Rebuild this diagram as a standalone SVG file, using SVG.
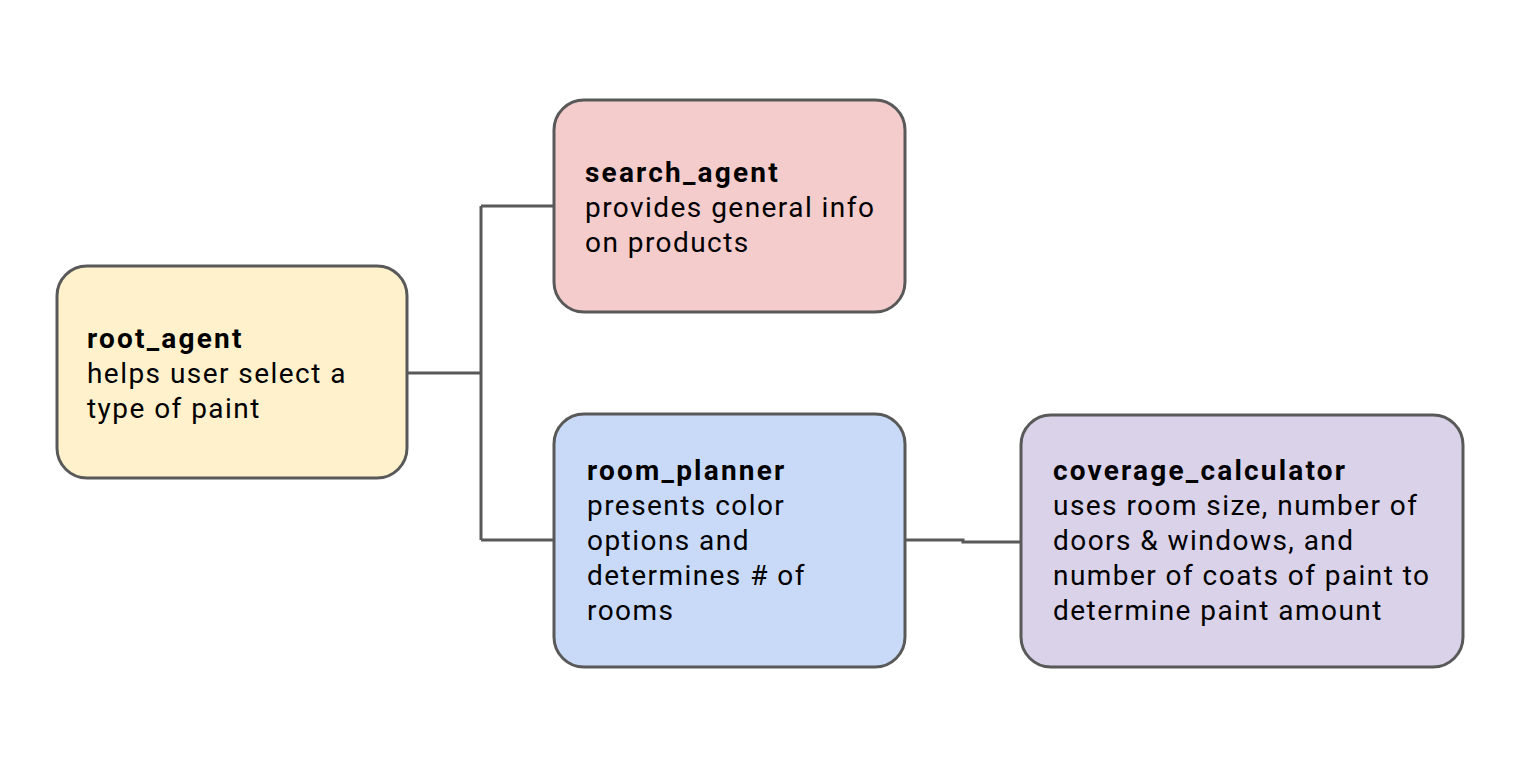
<svg xmlns="http://www.w3.org/2000/svg" width="1536" height="768" viewBox="0 0 1536 768">
<style>
.box{stroke:#595959;stroke-width:3}
.t{font-family:Roboto,"Liberation Sans",sans-serif;font-size:28px;fill:#000;letter-spacing:1.45px}
.b{font-weight:bold;letter-spacing:2.2px}
.c{fill:none;stroke:#595959;stroke-width:3}
</style>
<rect width="1536" height="768" fill="#fff"/>
<g id="connectors">
<path class="c" d="M407 373H481M481 206V540M481 206H554M481 540H554"/>
<path class="c" d="M905 540H963V542H1021"/>
</g>
<g id="root_agent">
<rect class="box" x="57" y="266" width="350" height="212" rx="30" fill="#fef1cc"/>
<text class="t" x="87" y="348"><tspan class="b">root_agent</tspan><tspan x="87" dy="35">helps user select a</tspan><tspan x="87" dy="35">type of paint</tspan></text>
</g>
<g id="search_agent">
<rect class="box" x="554" y="100" width="351" height="212" rx="30" fill="#f4cccc"/>
<text class="t" x="585" y="182"><tspan class="b">search_agent</tspan><tspan x="585" dy="35">provides general info</tspan><tspan x="585" dy="35">on products</tspan></text>
</g>
<g id="room_planner">
<rect class="box" x="554" y="414" width="351" height="253" rx="30" fill="#c9daf8"/>
<text class="t" x="587" y="480"><tspan class="b">room_planner</tspan><tspan x="587" dy="35">presents color</tspan><tspan x="587" dy="35">options and</tspan><tspan x="587" dy="35">determines # of</tspan><tspan x="587" dy="35">rooms</tspan></text>
</g>
<g id="coverage_calculator">
<rect class="box" x="1021" y="415" width="442" height="252" rx="30" fill="#d9d2e9"/>
<text class="t" x="1053" y="480"><tspan class="b">coverage_calculator</tspan><tspan x="1053" dy="35">uses room size, number of</tspan><tspan x="1053" dy="35">doors &amp; windows, and</tspan><tspan x="1053" dy="35">number of coats of paint to</tspan><tspan x="1053" dy="35">determine paint amount</tspan></text>
</g>
</svg>
